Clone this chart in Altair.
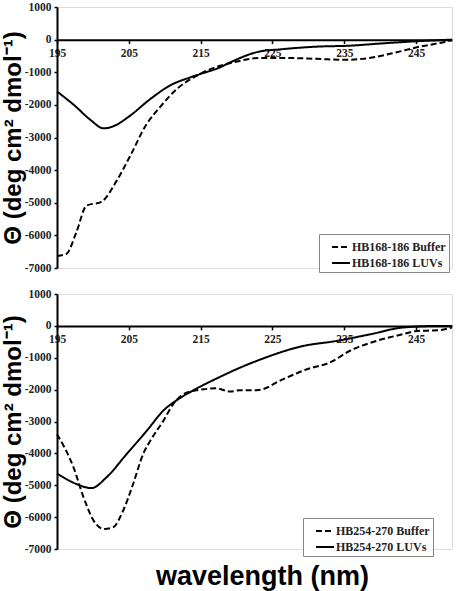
import altair as alt
import pandas as pd

# Wavelength (nm) / mean residue ellipticity readings, peptide HB168-186
top_buffer_wl = [195, 196.3, 197.7, 199.1, 201.2, 203.3, 205.2, 207.5, 209.3, 211.7, 214.5, 217.7,
                 219.5, 223.3, 226.5, 231.2, 235.1, 237.5, 241.7, 245.1, 248.8, 250]
top_buffer_theta = [-6630, -6570, -5900, -5090, -4970, -4330, -3560, -2580, -2080, -1510, -1100, -800,
                    -700, -560, -560, -590, -620, -590, -420, -235, -80, -20]
top_luv_wl = [195, 197.5, 199.6, 201.5, 203, 205, 208, 210.7, 213.5, 215, 217.7, 219.1, 223.3, 226,
              231.2, 235.8, 240, 245.1, 250]
top_luv_theta = [-1590, -2030, -2450, -2720, -2640, -2360, -1820, -1410, -1160, -1050, -850, -700,
                 -360, -300, -215, -185, -120, -50, 0]

# Peptide HB254-270
bot_buffer_wl = [195, 197.3, 198.7, 200.1, 201.5, 202.8, 204.2, 205.6, 207, 208, 209.8, 211.2, 213.1,
                 215.4, 217.2, 219.1, 220.5, 222.8, 226.5, 229.8, 233, 235.8, 239.5, 243.2, 245.1,
                 247.9, 250]
bot_buffer_theta = [-3400, -4440, -5380, -6110, -6370, -6320, -5800, -4960, -4020, -3600, -2980, -2450,
                    -2090, -1990, -1960, -2060, -2020, -2020, -1670, -1360, -1150, -780, -470, -260,
                    -160, -140, -50]
bot_luv_wl = [195, 197.7, 199.8, 201.9, 204.7, 207.5, 209.8, 212.1, 214, 217.7, 220.5, 222.8, 229.3,
              234, 238.7, 243.2, 248.3, 250]
bot_luv_theta = [-4630, -4960, -5090, -4750, -4020, -3290, -2660, -2270, -2020, -1600, -1310, -1100,
                 -630, -470, -260, -50, 0, 0]

x_ticks = [195, 205, 215, 225, 235, 245]
y_ticks = [-7000, -6000, -5000, -4000, -3000, -2000, -1000, 0, 1000]

SERIF = "Liberation Serif"
SANS = "Liberation Sans"


def frame(names, wl_a, th_a, wl_b, th_b):
    rows = [{"series": names[0], "wavelength": w, "theta": t} for w, t in zip(wl_a, th_a)]
    rows += [{"series": names[1], "wavelength": w, "theta": t} for w, t in zip(wl_b, th_b)]
    return pd.DataFrame(rows)


def panel(df, names, height, legend_x, legend_y, x_title, x_title_pad):
    zero_from_top = height / 8.0
    x_kwargs = dict(
        values=x_ticks, orient="bottom", offset=-(height - zero_from_top),
        domainColor="black", domainWidth=2, tickColor="black", tickWidth=1.5, tickSize=4,
        labelPadding=4, labelFont=SERIF, labelFontWeight="bold", labelFontSize=11.5,
        labelColor="#222222", labelFlush=False, labelOverlap=False, grid=False,
    )
    if x_title:
        x_kwargs.update(title=x_title, titleFont=SANS, titleFontSize=27, titleFontWeight="bold",
                        titleColor="black", titlePadding=x_title_pad, titleX=205, titleAlign="center")
    else:
        x_kwargs.update(title=None)
    return alt.Chart(df).mark_line(interpolate="monotone", color="black", strokeWidth=2).encode(
        x=alt.X("wavelength:Q", scale=alt.Scale(domain=[195, 250], nice=False, zero=False),
                axis=alt.Axis(**x_kwargs)),
        y=alt.Y("theta:Q", scale=alt.Scale(domain=[-7000, 1000], nice=False, zero=False),
                axis=alt.Axis(
                    values=y_ticks, title="Θ (deg cm² dmol⁻¹)",
                    labelExpr="datum.value < 0 ? '-' + abs(datum.value) : '' + datum.value",
                    domainColor="black", domainWidth=2, tickColor="black", tickWidth=1.5, tickSize=3,
                    labelPadding=3, labelFont=SERIF, labelFontWeight="bold", labelFontSize=11.5,
                    labelColor="#222222", grid=False,
                    titleFont=SANS, titleFontSize=24, titleFontWeight="bold", titleColor="black",
                    titlePadding=-1,
                )),
        strokeDash=alt.StrokeDash(
            "series:N",
            scale=alt.Scale(domain=names, range=[[6, 3], [1, 0]]),
            legend=alt.Legend(
                title=None, orient="none", legendX=legend_x, legendY=legend_y,
                symbolType="stroke", symbolSize=324, symbolStrokeWidth=2, symbolStrokeColor="black",
                symbolOffset=9, labelOffset=1,
                labelFont=SERIF, labelFontWeight="bold", labelFontSize=12, labelColor="#222222",
                strokeColor="#888888", fillColor="white", padding=3, rowPadding=0,
            ),
        ),
        order=alt.Order("wavelength:Q"),
    ).properties(width=395, height=height)


top_names = ["HB168-186 Buffer", "HB168-186 LUVs"]
bot_names = ["HB254-270 Buffer", "HB254-270 LUVs"]

top = panel(frame(top_names, top_buffer_wl, top_buffer_theta, top_luv_wl, top_luv_theta),
            top_names, 261, 262, 227, None, 0)
bottom = panel(frame(bot_names, bot_buffer_wl, bot_buffer_theta, bot_luv_wl, bot_luv_theta),
               bot_names, 255, 246, 224, "wavelength (nm)", 218)

chart = alt.vconcat(top, bottom, spacing=13).resolve_scale(
    strokeDash="independent"
).resolve_legend(strokeDash="independent").configure_view(stroke=None).configure(
    padding={"left": 0, "top": 0, "right": 5, "bottom": 2}, background="white"
)

chart.save("out.html", embed_options={"renderer": "svg", "actions": False})
